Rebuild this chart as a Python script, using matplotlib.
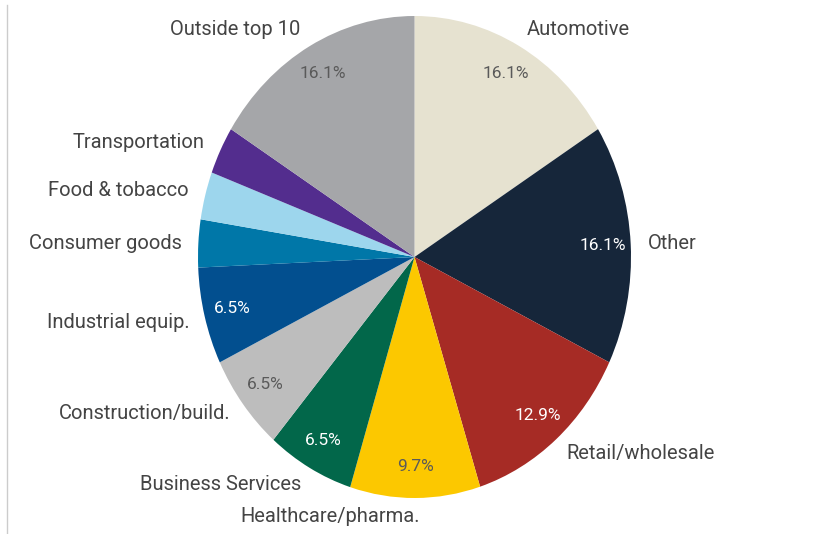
import matplotlib.pyplot as plt
from matplotlib.lines import Line2D

plt.rcParams['font.family'] = ['Roboto', 'DejaVu Sans']

# Share of firms by sector (%), clockwise from 12 o'clock
sectors = ['Automotive', 'Other', 'Retail/wholesale', 'Healthcare/pharma.',
           'Business Services', 'Construction/build.', 'Industrial equip.',
           'Consumer goods', 'Food & tobacco', 'Transportation', 'Outside top 10']
shares = [16.1, 16.1, 12.9, 9.7, 6.5, 6.5, 6.5, 3.2, 3.2, 3.2, 16.1]
colors = ['#e6e2d0', '#16263a', '#a62b25', '#fcc800', '#02674a', '#bdbdbd',
          '#024f8f', '#0077a8', '#9dd6ed', '#532d8e', '#a5a6a9']
dark = ['#16263a', '#a62b25', '#02674a', '#024f8f']

# where each sector name sits (axes data units) and how it is aligned
label_pos = [(0.52, 0.942, 'left'), (1.08, 0.058, 'left'), (0.70, -0.817, 'left'),
             (-0.39, -1.075, 'center'), (-0.525, -0.942, 'right'),
             (-0.85, -0.651, 'right'), (-1.04, -0.27, 'right'),
             (-1.076, 0.054, 'right'), (-1.044, 0.274, 'right'),
             (-0.97, 0.477, 'right'), (-0.525, 0.942, 'right')]

fig = plt.figure(figsize=(8.13, 5.34), dpi=100)
# pie is drawn slightly taller than wide
ax = fig.add_axes([198 / 813, 36 / 534, 433 / 813, 482 / 534])

wedges, _, autotexts = ax.pie(
    shares, colors=colors, startangle=90, counterclock=False,
    autopct=lambda p: f'{p:.1f}%' if p >= 5 else '', pctdistance=0.87,
    wedgeprops=dict(linewidth=0), radius=1)
ax.set_aspect('auto')
ax.set_xlim(-1, 1)
ax.set_ylim(-1, 1)

for t, c in zip(autotexts, colors):
    t.set_fontsize(12.5)
    t.set_color('white' if c in dark else '#5a5a5a')

for name, (x, y, ha) in zip(sectors, label_pos):
    ax.text(x, y, name, ha=ha, va='center', fontsize=14.5, color='#444444',
            clip_on=False)

# thin rule down the left edge
fig.add_artist(Line2D([6.5 / 813, 6.5 / 813], [0, 529 / 534],
                      transform=fig.transFigure, color='#cccccc', lw=1))

fig.savefig('out.png', dpi=100)
